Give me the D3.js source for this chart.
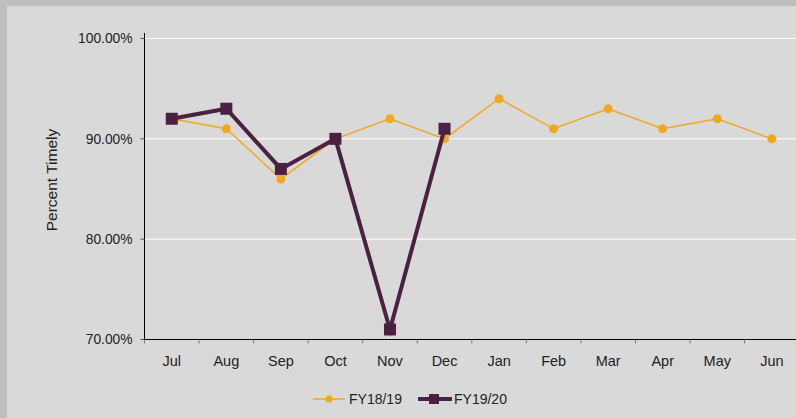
<!DOCTYPE html>
<html>
<head>
<meta charset="utf-8">
<script src="https://cdn.jsdelivr.net/npm/d3@7"></script>
<style>
  body { margin: 0; background: #bfbfbf; }
  svg { display: block; font-family: 'Liberation Sans', Arial, sans-serif; }
</style>
</head>
<body>
<div id="chart"></div>
<script>
let months = ['Jul', 'Aug', 'Sep', 'Oct', 'Nov', 'Dec', 'Jan', 'Feb', 'Mar', 'Apr', 'May', 'Jun']
let fy1819 = [92, 91, 86, 90, 92, 90, 94, 91, 93, 91, 92, 90]
let fy1920 = [92, 93, 87, 90, 71, 91]
let yTicks = [70, 80, 90, 100]

let width = 796
let height = 418

let svg = d3
  .select('#chart')
  .append('svg')
  .attr('width', width)
  .attr('height', height)

// outer frame + panel
svg.append('rect').attr('width', width).attr('height', height).attr('fill', '#bfbfbf')
svg.append('rect').attr('x', 7).attr('y', 6).attr('width', width - 7).attr('height', height - 6).attr('fill', '#d9d9d9')

let left = 144.5
let xScale = d3.scaleBand().domain(months).range([left, left + 12 * 54.55])
let yScale = d3.scaleLinear().domain([70, 100]).range([339.5, 38.5])

// gridlines
svg
  .selectAll('.grid')
  .data(yTicks.slice(1))
  .enter()
  .append('line')
  .attr('x1', left)
  .attr('x2', width)
  .attr('y1', d => yScale(d))
  .attr('y2', d => yScale(d))
  .attr('stroke', '#ffffff')
  .attr('stroke-width', 1)

// y axis
let yAxis = svg.append('g').attr('transform', `translate(${left},0)`)
yAxis.append('line').attr('y1', 33).attr('y2', yScale(70)).attr('stroke', '#000')
yTicks.forEach(t => {
  yAxis.append('line').attr('x1', -4).attr('x2', 0).attr('y1', yScale(t)).attr('y2', yScale(t)).attr('stroke', '#555')
  yAxis
    .append('text')
    .attr('x', -12)
    .attr('y', yScale(t))
    .attr('dy', '0.35em')
    .attr('text-anchor', 'end')
    .attr('font-size', '13.8px')
    .attr('fill', '#222')
    .text(d3.format('.2f')(t) + '%')
})

// x axis
let xAxis = svg.append('g').attr('transform', `translate(0,${yScale(70)})`)
xAxis.append('line').attr('x1', left).attr('x2', width).attr('stroke', '#000')
months.forEach(m => {
  xAxis.append('line').attr('x1', xScale(m)).attr('x2', xScale(m)).attr('y1', 0).attr('y2', 4).attr('stroke', '#777')
  xAxis
    .append('text')
    .attr('x', xScale(m) + xScale.bandwidth() / 2)
    .attr('y', 26)
    .attr('text-anchor', 'middle')
    .attr('font-size', '14.5px')
    .attr('fill', '#222')
    .text(m)
})

svg
  .append('text')
  .attr('transform', 'translate(57,180) rotate(-90)')
  .attr('text-anchor', 'middle')
  .attr('font-size', '15.5px')
  .attr('fill', '#222')
  .text('Percent Timely')

let cx = (d, i) => xScale(months[i]) + xScale.bandwidth() / 2
let line = d3.line().x((d, i) => cx(d, i)).y(d => yScale(d))

let orange = '#f0a722'
let purple = '#4b2142'

svg.append('path').datum(fy1819).attr('d', line).attr('fill', 'none').attr('stroke', orange).attr('stroke-width', 1.5)
svg
  .selectAll('.dot')
  .data(fy1819)
  .enter()
  .append('circle')
  .attr('cx', cx)
  .attr('cy', d => yScale(d))
  .attr('r', 4.5)
  .attr('fill', orange)

svg.append('path').datum(fy1920).attr('d', line).attr('fill', 'none').attr('stroke', purple).attr('stroke-width', 4)
svg
  .selectAll('.sq')
  .data(fy1920)
  .enter()
  .append('rect')
  .attr('x', (d, i) => cx(d, i) - 6)
  .attr('y', d => yScale(d) - 6)
  .attr('width', 12)
  .attr('height', 12)
  .attr('fill', purple)

// legend
let legend = svg.append('g').attr('transform', 'translate(0,399)')
legend.append('line').attr('x1', 313).attr('x2', 345).attr('stroke', orange).attr('stroke-width', 1.5)
legend.append('circle').attr('cx', 329).attr('r', 3.5).attr('fill', orange)
legend.append('text').attr('x', 349).attr('dy', '0.35em').attr('font-size', '14px').attr('fill', '#222').text('FY18/19')
legend.append('line').attr('x1', 418).attr('x2', 452).attr('stroke', purple).attr('stroke-width', 4)
legend.append('rect').attr('x', 429).attr('y', -5).attr('width', 10).attr('height', 10).attr('fill', purple)
legend.append('text').attr('x', 454).attr('dy', '0.35em').attr('font-size', '14px').attr('fill', '#222').text('FY19/20')
</script>
</body>
</html>
